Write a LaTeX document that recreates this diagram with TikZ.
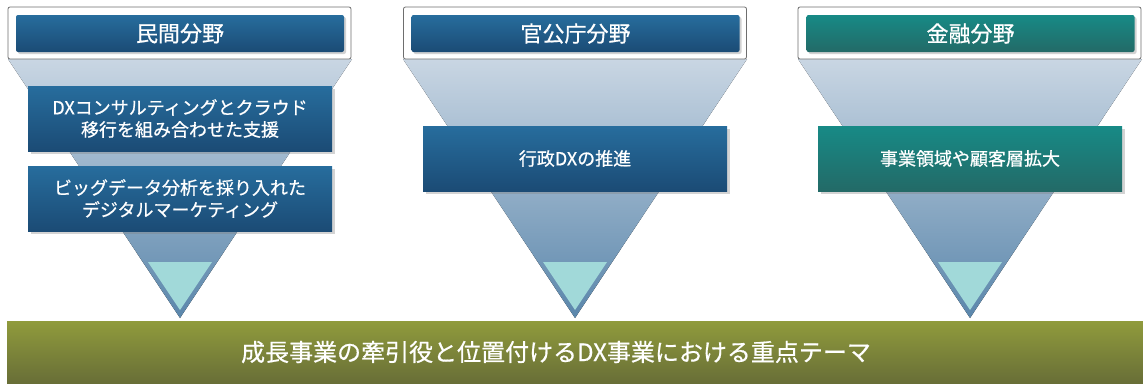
\documentclass[tikz,border=0pt]{standalone}
\usepackage{fontspec}
\setmainfont{Noto Sans CJK JP}[FakeBold=0.6]
\usetikzlibrary{shadows}
\definecolor{frameline}{HTML}{6E6E6E}
\definecolor{bluetop}{HTML}{276D9D}
\definecolor{bluebot}{HTML}{1B4B75}
\definecolor{tealtop}{HTML}{178A86}
\definecolor{tealbot}{HTML}{236A67}
\definecolor{funtop}{HTML}{C9D6E3}
\definecolor{funbot}{HTML}{5A86AB}
\definecolor{tip}{HTML}{A1D9D9}
\definecolor{olivetop}{HTML}{909B3C}
\definecolor{olivebot}{HTML}{686E37}
\tikzset{
  framebox/.style={draw=frameline, line width=0.8pt, fill=white, rounded corners=2pt,
    minimum width=343pt, minimum height=52pt, inner sep=0pt},
  headbox/.style={top color=bluetop, bottom color=bluebot, rounded corners=2pt,
    minimum width=328pt, minimum height=37pt, inner sep=0pt, text=white, font=\fontsize{22}{26}\selectfont,
    drop shadow={shadow xshift=2pt, shadow yshift=-2pt, opacity=0.35}},
  tealhead/.style={headbox, top color=tealtop, bottom color=tealbot},
  itembox/.style={top color=bluetop, bottom color=bluebot,
    minimum width=304pt, minimum height=65pt, inner sep=0pt, text=white, align=center,
    font=\fontsize{18}{22}\selectfont,
    drop shadow={shadow xshift=3pt, shadow yshift=-3pt, opacity=0.35}},
  tealitem/.style={itembox, top color=tealtop, bottom color=tealbot},
  funnel/.style={top color=funtop, bottom color=funbot, draw=none},
  tipfill/.style={fill=tip, draw=none},
  basebar/.style={top color=olivetop, bottom color=olivebot, minimum width=1136pt,
    minimum height=62pt, inner sep=0pt},
}
\begin{document}
\begin{tikzpicture}[x=1pt,y=-1pt]
\useasboundingbox (0,0) rectangle (1143,383);
% funnels
\foreach \c in {180,575,970}{
  \fill[funnel] (\c-172,59) -- (\c+172,59) -- (\c,318) -- cycle;
  \fill[tipfill] (\c-32,262) -- (\c+32,262) -- (\c,310) -- cycle;
}
% bottom bar
\node[basebar] (bar) at (575,352) {};
\node[text=white, font=\fontsize{24}{28}\selectfont] (bartext) at (556,352) {成長事業の牽引役と位置付けるDX事業における重点テーマ};
% frames and headers
\node[framebox] (f1) at (179.5,33) {};
\node[framebox] (f2) at (575,33) {};
\node[framebox] (f3) at (969.5,33) {};
\node[headbox] (h1) at (180,33.5) {民間分野};
\node[headbox] (h2) at (575.5,33.5) {官公庁分野};
\node[tealhead] (h3) at (970.5,33.5) {金融分野};
% items
\node[itembox] (b1) at (180,118.5) {DXコンサルティングとクラウド\\移行を組み合わせた支援};
\node[itembox] (b2) at (180,198.5) {ビッグデータ分析を採り入れた\\デジタルマーケティング};
\node[itembox] (b3) at (575,158.5) {行政DXの推進};
\node[tealitem] (b4) at (970,158.5) {事業領域や顧客層拡大};
\end{tikzpicture}
\end{document}
